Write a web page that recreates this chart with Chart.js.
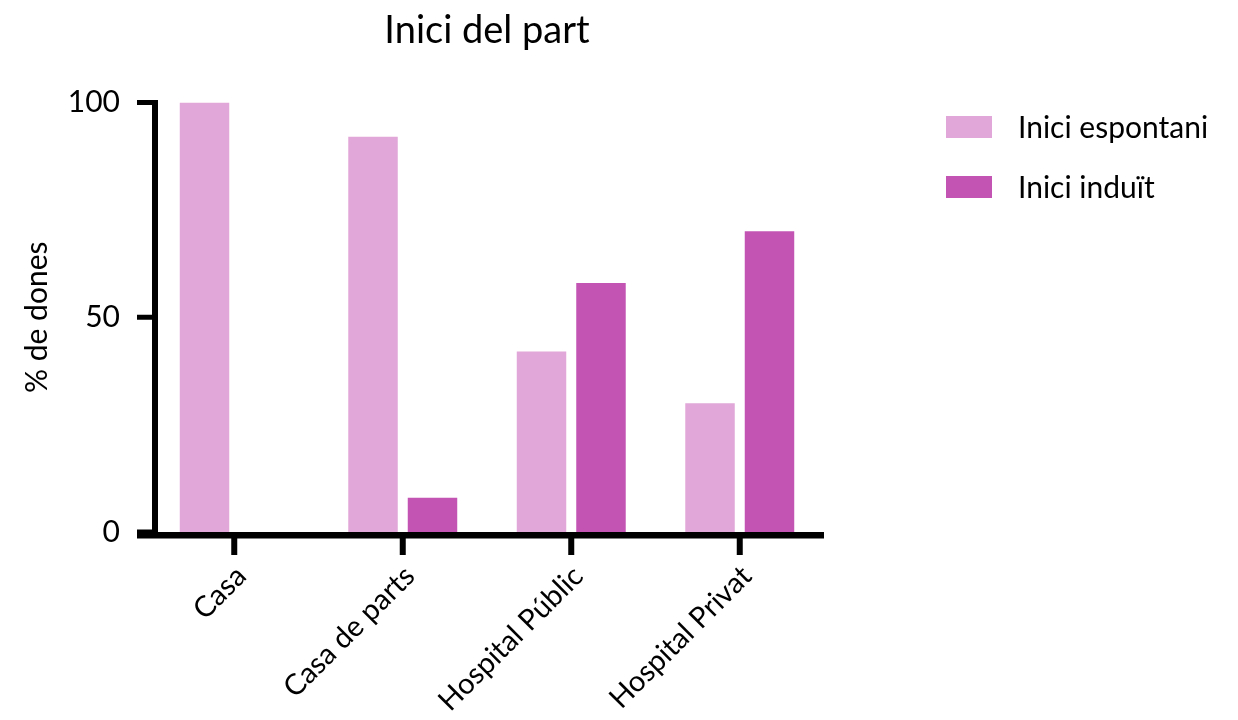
<!DOCTYPE html>
<html>
<head>
<meta charset="utf-8">
<script src="https://cdn.jsdelivr.net/npm/chart.js@4.4.1/dist/chart.umd.min.js"></script>
<style>
  html, body { margin: 0; padding: 0; background: #fff; }
  #wrap { width: 1238px; height: 720px; }
</style>
</head>
<body>
<div id="wrap"><canvas id="chart" width="1238" height="720"></canvas></div>
<script>
var categories = ['Casa', 'Casa de parts', 'Hospital Públic', 'Hospital Privat'];
var espontani = [100, 92, 42, 30];
var induit = [0, 8, 58, 70];
var seriesNames = ['Inici espontani', 'Inici induït'];
var yTicks = [0, 50, 100];
var chartTitle = 'Inici del part';
var yTitle = '% de dones';

var FONT = 'Lato, "Noto Sans", sans-serif';

// axes, title and legend drawn the Prism way
var prismLook = {
    id: 'prismLook',
    afterDraw: function(chart) {
        var ctx = chart.ctx;
        var x = chart.scales.x, y = chart.scales.y;
        var area = chart.chartArea;
        var y0 = y.getPixelForValue(0);
        var yTop = y.getPixelForValue(100);
        var axisX = area.left + 5;
        ctx.save();
        ctx.fillStyle = '#000';
        // y axis line
        ctx.fillRect(axisX - 3, yTop - 2.5, 6, y0 - yTop + 6);
        // x axis line
        ctx.fillRect(area.left - 13, y0, area.right - area.left + 13, 6.5);
        // y ticks
        yTicks.forEach(function(v) {
            var py = y.getPixelForValue(v);
            ctx.fillRect(area.left - 13, py - 2.5, 18, 5);
        });
        // x ticks
        categories.forEach(function(c, i) {
            var px = x.getPixelForTick(i);
            ctx.fillRect(px - 3, y0 + 3, 6, 20);
        });
        // title
        ctx.font = '38px ' + FONT;
        ctx.textAlign = 'center';
        ctx.textBaseline = 'middle';
        ctx.fillText(chartTitle, (area.left + area.right) / 2, 31);
        // legend
        ctx.font = '30px ' + FONT;
        ctx.textAlign = 'left';
        chart.data.datasets.forEach(function(ds, i) {
            var top = 116 + i * 60;
            ctx.fillStyle = ds.backgroundColor;
            ctx.fillRect(946, top, 46, 22);
            ctx.fillStyle = '#000';
            ctx.fillText(ds.label, 1018, top + 12);
        });
        ctx.restore();
    }
};

new Chart(document.getElementById('chart').getContext('2d'), {
    type: 'bar',
    data: {
        labels: categories,
        datasets: [{
            label: seriesNames[0],
            data: espontani,
            backgroundColor: '#E1A7D8'
        }, {
            label: seriesNames[1],
            data: induit,
            backgroundColor: '#C454B4'
        }]
    },
    options: {
        responsive: false,
        animation: false,
        categoryPercentage: 0.706,
        barPercentage: 0.832,
        layout: { padding: { left: 0, right: 414, top: 102.5, bottom: 0 } },
        plugins: {
            legend: { display: false },
            title: { display: false },
            tooltip: { enabled: false }
        },
        scales: {
            x: {
                grid: { display: false },
                border: { display: false },
                ticks: {
                    color: '#000',
                    font: { family: FONT, size: 29 },
                    minRotation: 45,
                    maxRotation: 45,
                    padding: 19,
                    labelOffset: 7
                },
                afterFit: function(s) { s.height = 188; }
            },
            y: {
                min: 0,
                max: 100,
                grid: { display: false },
                border: { display: false },
                afterBuildTicks: function(s) {
                    s.ticks = yTicks.map(function(v) { return { value: v }; });
                },
                ticks: {
                    color: '#000',
                    font: { family: FONT, size: 30 },
                    padding: 22
                },
                title: {
                    display: true,
                    text: yTitle,
                    color: '#000',
                    font: { family: FONT, size: 30 },
                    padding: { top: 19, bottom: 0 }
                },
                afterFit: function(s) { s.width = 150; }
            }
        }
    },
    plugins: [prismLook]
});
</script>
</body>
</html>
